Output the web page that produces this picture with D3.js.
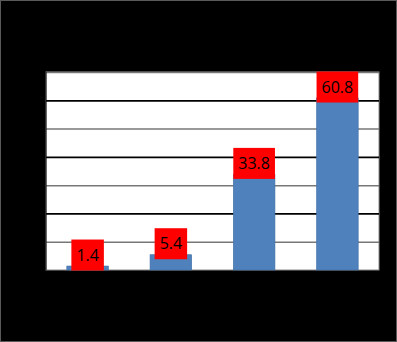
<!DOCTYPE html>
<html>
<head>
<meta charset="utf-8">
<script src="https://cdn.jsdelivr.net/npm/d3@7"></script>
<style>
html,body{margin:0;padding:0;background:#000;}
svg{display:block;}
</style>
</head>
<body>
<script>
const categories = ["1", "2", "3", "4"];
const values = [1.4, 5.4, 33.8, 60.8];
const yTicks = [0, 10, 20, 30, 40, 50, 60, 70];

const W = 397, H = 342;
const plot = {left: 46, right: 379, top: 72, bottom: 270};

const svg = d3.select("body").append("svg").attr("width", W).attr("height", H);
svg.append("rect").attr("x", 0.5).attr("y", 0.5).attr("width", W - 1).attr("height", H - 1)
  .attr("fill", "#000").attr("stroke", "#5a5a5a").attr("stroke-width", 1);

const x = d3.scaleBand().domain(categories).range([plot.left, plot.right]).paddingInner(0.5).paddingOuter(0.25);
const y = d3.scaleLinear().domain([0, 70]).range([plot.bottom, plot.top]);

svg.append("rect").attr("x", plot.left).attr("y", plot.top)
  .attr("width", plot.right - plot.left).attr("height", plot.bottom - plot.top)
  .attr("fill", "#fff").attr("stroke", "#8a8a8a").attr("stroke-width", 1);

const grid = svg.append("g").attr("transform", `translate(${plot.left},0)`)
  .call(d3.axisLeft(y).tickValues(yTicks).tickSize(-(plot.right - plot.left)).tickFormat(""));
grid.select(".domain").remove();
grid.selectAll(".tick line")
  .attr("stroke", d => (d % 20 === 0 && d > 0) ? "#000" : "#777")
  .attr("stroke-width", d => (d % 20 === 0 && d > 0) ? 1.8 : 1.5)
  .attr("stroke-opacity", d => d === 0 ? 0 : 1);

svg.append("line").attr("x1", plot.left).attr("x2", plot.left).attr("y1", plot.top).attr("y2", plot.bottom)
  .attr("stroke", "#111").attr("stroke-width", 1);

svg.append("g").selectAll("rect").data(values).join("rect")
  .attr("x", (d, i) => x(categories[i]))
  .attr("width", x.bandwidth())
  .attr("y", d => y(d))
  .attr("height", d => y(0) - y(d))
  .attr("fill", "#4f81bd")
  .attr("stroke", "#3f6ea6").attr("stroke-width", 0.6);

const lbl = svg.append("g").selectAll("g").data(values).join("g");
lbl.each(function(d, i) {
  const g = d3.select(this);
  const cx = x(categories[i]) + x.bandwidth() / 2;
  const bottom = y(d) + 4.5;
  const bh = 31;
  const t = g.append("text").text(d.toFixed(1))
    .attr("font-family", "'Open Sans', sans-serif").attr("font-size", 16)
    .attr("fill", "#000").attr("text-anchor", "middle")
    .attr("x", cx).attr("y", bottom - bh / 2 + 5.5);
  const tw = t.node().getComputedTextLength();
  const bw = tw + 10;
  g.insert("rect", "text").attr("x", cx - bw / 2).attr("y", bottom - bh)
    .attr("width", bw).attr("height", bh).attr("fill", "#ff0000");
});
</script>
</body>
</html>
